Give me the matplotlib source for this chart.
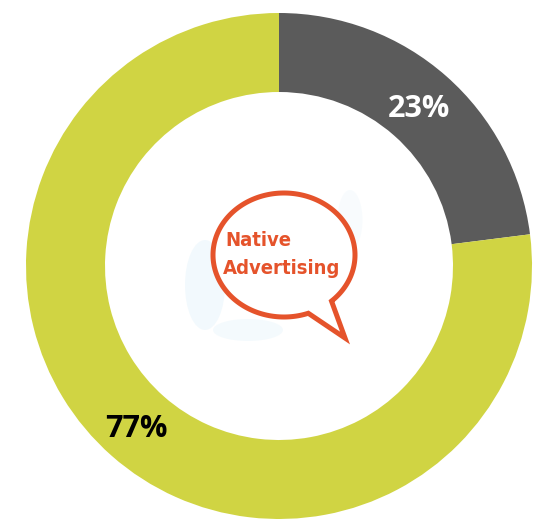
import numpy as np
import matplotlib
matplotlib.use("Agg")
import matplotlib.pyplot as plt
from matplotlib.patches import Ellipse, PathPatch
from matplotlib.path import Path

# Data
categories = ["Other", "Native Advertising"]
values = [23, 77]
labels = ["23%", "77%"]
colors = ["#5b5b5b", "#d0d443"]
label_colors = ["white", "black"]

W, H = 538, 519
fig = plt.figure(figsize=(W / 100, H / 100), dpi=100)
ax = fig.add_axes([0, 0, 1, 1])

cx, cy, R, r_in = 279, 266, 253, 174
# y axis is inverted (pixel-like coordinates), so start at -90 and run
# counter-clockwise in data space = clockwise from 12 o'clock on screen
wedges, _ = ax.pie(values, colors=colors, startangle=-90, counterclock=True,
                   center=(cx, cy), radius=R,
                   wedgeprops=dict(width=R - r_in, linewidth=0))
ax.set_xlim(0, W)
ax.set_ylim(H, 0)
ax.set_aspect("equal")
ax.axis("off")

# percentage labels placed along the ring
label_pos = [(419, 109), (136, 429)]
for (x, y), lab, c in zip(label_pos, labels, label_colors):
    ax.text(x, y, lab, ha="center", va="center", color=c, fontsize=22,
            fontweight="bold", family=["Open Sans", "DejaVu Sans"])

# faint light-blue background behind the bubble
for (ex, ey, ew, eh, a) in [(205, 285, 40, 90, 0.22), (248, 330, 70, 22, 0.18),
                            (350, 220, 25, 60, 0.12)]:
    ax.add_patch(Ellipse((ex, ey), ew, eh, color="#c6e6f6", alpha=a, lw=0))

# speech bubble
bx, by, ax_r, ay_r = 284, 255, 71, 62
angs = np.deg2rad(np.linspace(70, 408, 200))
pts = np.column_stack([bx + ax_r * np.cos(angs), by + ay_r * np.sin(angs)])
pts = np.vstack([pts, [[345, 338]], [pts[0]]])
codes = [Path.MOVETO] + [Path.LINETO] * (len(pts) - 2) + [Path.CLOSEPOLY]
ax.add_patch(PathPatch(Path(pts, codes), facecolor="white", edgecolor="#e5532b",
                       lw=3.6, joinstyle="miter"))

txt_kw = dict(ha="left", va="center", color="#e5532b", fontsize=14.5,
              fontweight="bold", fontstretch="condensed",
              family=["DejaVu Sans"])
ax.text(225, 240, "Native", **txt_kw)
ax.text(223, 268, "Advertising", **txt_kw)

fig.savefig("out.png", dpi=100)
